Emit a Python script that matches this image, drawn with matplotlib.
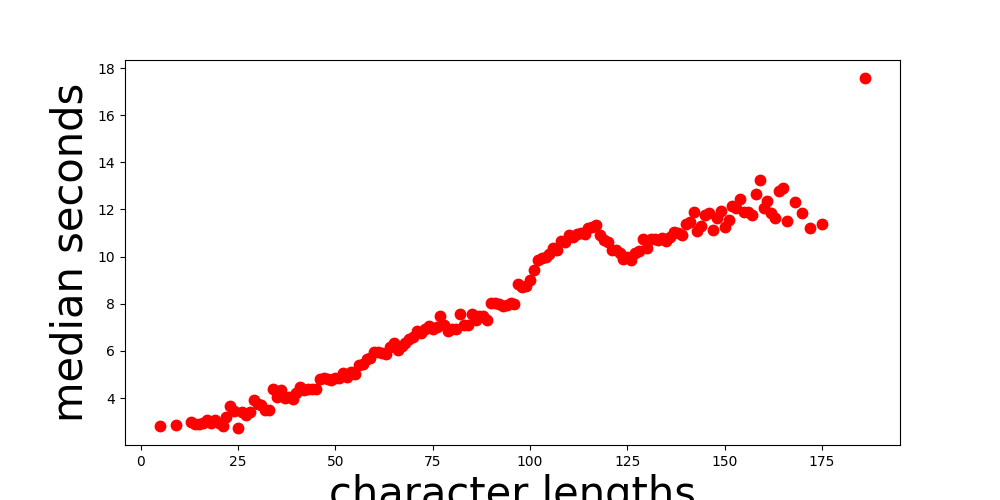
import matplotlib
matplotlib.use("Agg")
import matplotlib.pyplot as plt

lengths = [5, 9, 13, 14, 15, 16, 17, 18, 19, 20, 21, 22, 23, 24, 25, 26, 27, 28, 29, 30,
           31, 32, 33, 34, 35, 36, 37, 38, 39, 40, 41, 42, 43, 44, 45, 46, 47, 48, 49, 50,
           51, 52, 53, 54, 55, 56, 57, 58, 59, 60, 61, 62, 63, 64, 65, 66, 67, 68, 69, 70,
           71, 72, 73, 74, 75, 76, 77, 78, 79, 80, 81, 82, 83, 84, 85, 86, 87, 88, 89, 90,
           91, 92, 93, 94, 95, 96, 97, 98, 99, 100, 101, 102, 103, 104, 105, 106, 107, 108, 109, 110,
           111, 112, 113, 114, 115, 116, 117, 118, 119, 120, 121, 122, 123, 124, 125, 126, 127, 128, 129, 130,
           131, 132, 133, 134, 135, 136, 137, 138, 139, 140, 141, 142, 143, 144, 145, 146, 147, 148, 149, 150,
           151, 152, 153, 154, 155, 156, 157, 158, 159, 160, 161, 162, 163, 164, 165, 166, 168, 170, 172, 175,
           186]
median_seconds = [2.8, 2.85, 3.0, 2.9, 2.9, 2.95, 3.05, 2.95, 3.05, 2.95, 2.8, 3.2, 3.65, 3.45, 2.75, 3.4, 3.3, 3.4, 3.9, 3.75,
                  3.7, 3.5, 3.5, 4.4, 4.05, 4.35, 4.0, 4.05, 3.95, 4.2, 4.45, 4.35, 4.4, 4.4, 4.4, 4.8, 4.85, 4.8, 4.75, 4.85,
                  4.85, 5.05, 4.9, 5.1, 5.0, 5.4, 5.45, 5.65, 5.7, 5.95, 5.95, 5.9, 5.85, 6.15, 6.35, 6.05, 6.2, 6.35, 6.5, 6.6,
                  6.85, 6.75, 6.95, 7.05, 6.95, 7.0, 7.5, 7.1, 6.85, 6.95, 6.95, 7.55, 7.1, 7.1, 7.55, 7.3, 7.5, 7.5, 7.3, 8.05,
                  8.05, 8.0, 7.9, 7.95, 8.05, 8.0, 8.85, 8.7, 8.75, 9.0, 9.45, 9.85, 9.95, 10.0, 10.1, 10.35, 10.3, 10.65, 10.6, 10.9,
                  10.85, 10.95, 11.0, 10.95, 11.2, 11.25, 11.35, 10.9, 10.7, 10.6, 10.3, 10.3, 10.15, 9.9, 10.0, 9.85, 10.15, 10.25, 10.75, 10.35,
                  10.75, 10.75, 10.7, 10.8, 10.65, 10.85, 11.05, 11.0, 10.9, 11.4, 11.45, 11.9, 11.1, 11.3, 11.75, 11.85, 11.15, 11.65, 11.95, 11.25,
                  11.55, 12.15, 12.05, 12.45, 11.9, 11.9, 11.75, 12.65, 13.25, 12.05, 12.35, 11.85, 11.65, 12.8, 12.9, 11.5, 12.3, 11.85, 11.2, 11.4,
                  17.6]

fig, ax = plt.subplots(figsize=(10, 5), dpi=100)
ax.plot(lengths, median_seconds, 'o', color='red', markersize=7.5)
ax.set_xlabel("character lengths", fontsize=30)
ax.set_ylabel("median seconds", fontsize=30)
fig.savefig("out.png")
